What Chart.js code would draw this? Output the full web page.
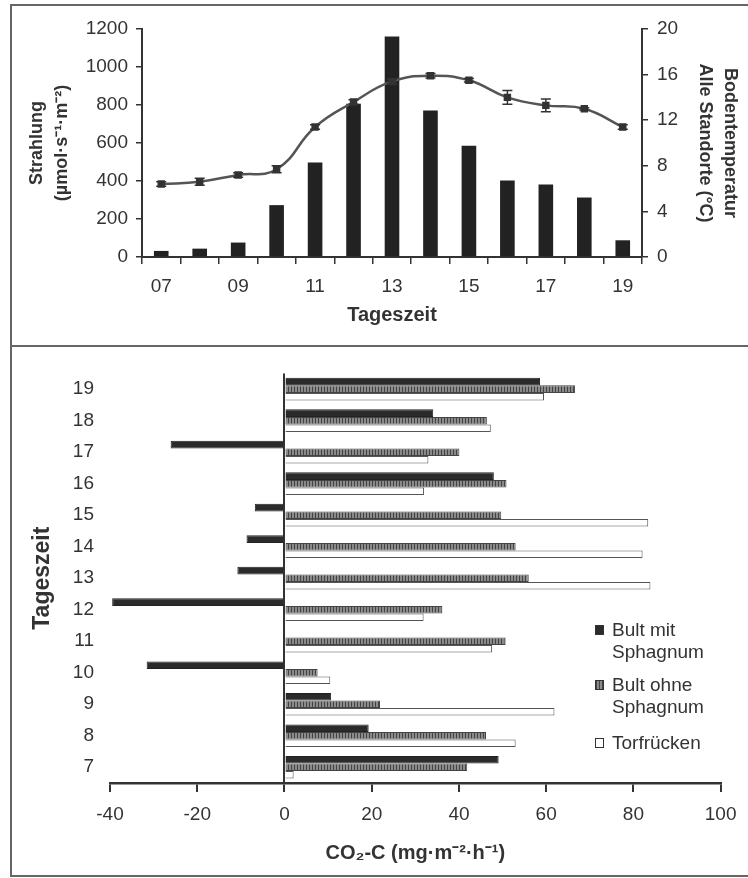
<!DOCTYPE html>
<html>
<head>
<meta charset="utf-8">
<script src="https://cdn.jsdelivr.net/npm/chart.js@4.4.0/dist/chart.umd.min.js"></script>
<style>
  html, body { margin: 0; padding: 0; background: #fff; }
  #fig { position: relative; width: 748px; height: 878px; overflow: hidden; font-family: "Liberation Sans", Arial, sans-serif; color: #333; }
  .line { position: absolute; background: #666; }
  #top { position: absolute; left: 0; top: 0; }
  #bottom { position: absolute; left: 0; top: 346px; }
  .legend { position: absolute; left: 595px; font-size: 19px; line-height: 22px; }
  .legend .sw { position: absolute; left: 0; top: 6px; width: 9px; height: 10px; box-sizing: border-box; border: 1px solid #333; }
  .legend .tx { position: absolute; left: 17px; top: 0; white-space: nowrap; }
</style>
</head>
<body>
<div id="fig">
  <canvas id="top" width="748" height="346"></canvas>
  <canvas id="bottom" width="748" height="532"></canvas>

  <!-- frame of the figure -->
  <div class="line" style="left:10px; top:4px; width:738px; height:2px"></div>
  <div class="line" style="left:10px; top:345px; width:738px; height:2px"></div>
  <div class="line" style="left:10px; top:875px; width:738px; height:2px"></div>
  <div class="line" style="left:10px; top:4px; width:2px; height:873px"></div>

  <!-- legend of the lower chart -->
  <div class="legend" style="top:619px">
    <span class="sw" style="background:#2b2b2b"></span>
    <span class="tx">Bult mit<br>Sphagnum</span>
  </div>
  <div class="legend" style="top:674px">
    <span class="sw" style="background:repeating-linear-gradient(90deg,#444 0 1px,#8a8a8a 1px 3px)"></span>
    <span class="tx">Bult ohne<br>Sphagnum</span>
  </div>
  <div class="legend" style="top:732px">
    <span class="sw" style="background:#fff"></span>
    <span class="tx">Torfrücken</span>
  </div>
</div>
<script>
// ── upper chart: radiation (bars) and soil temperature (line) ──
const hours = ['07', '08', '09', '10', '11', '12', '13', '14', '15', '16', '17', '18', '19'];
const radiation = [32, 44, 76, 273, 498, 806, 1161, 771, 586, 403, 382, 313, 88];
const soilTemp = [6.4, 6.6, 7.2, 7.7, 11.4, 13.6, 15.4, 15.9, 15.5, 14.0, 13.3, 13.0, 11.4];
const soilTempErr = [0.2, 0.3, 0.2, 0.3, 0.2, 0.2, 0.2, 0.2, 0.15, 0.6, 0.55, 0.1, 0.2];

// ── lower chart: CO2 flux per hour, top row first ──
const fluxHours = ['19', '18', '17', '16', '15', '14', '13', '12', '11', '10', '9', '8', '7'];
const bultMit = [58.6, 34.1, -26.1, 48.0, -6.8, -8.7, -10.8, -39.5, null, -31.6, 10.7, 19.3, 49.1];
const bultOhne = [66.6, 46.4, 40.1, 50.9, 49.7, 53.0, 56.0, 36.2, 50.7, 7.6, 21.9, 46.2, 41.9];
const torf = [59.5, 47.3, 33.0, 32.0, 83.4, 82.1, 83.9, 31.9, 47.6, 10.5, 61.9, 53.0, 2.1];

const INK = '#333';
Chart.defaults.font.family = 'Liberation Sans, Arial, sans-serif';
Chart.defaults.color = INK;

function hatch() {
  const c = document.createElement('canvas');
  c.width = 3; c.height = 4;
  const g = c.getContext('2d');
  g.fillStyle = '#8a8a8a';
  g.fillRect(0, 0, 3, 4);
  g.fillStyle = '#444';
  g.fillRect(0, 0, 1, 4);
  return g.createPattern(c, 'repeat');
}

// error bars for the temperature line, drawn through the y1 scale
const errorBars = {
  id: 'errorBars',
  afterDatasetsDraw(chart) {
    const meta = chart.getDatasetMeta(0);
    const y1 = chart.scales.y1;
    const ctx = chart.ctx;
    ctx.save();
    ctx.strokeStyle = INK;
    ctx.lineWidth = 1.5;
    meta.data.forEach((pt, i) => {
      const e = soilTempErr[i];
      const yt = y1.getPixelForValue(soilTemp[i] + e);
      const yb = y1.getPixelForValue(soilTemp[i] - e);
      ctx.beginPath();
      ctx.moveTo(pt.x, yt); ctx.lineTo(pt.x, yb);
      ctx.moveTo(pt.x - 5, yt); ctx.lineTo(pt.x + 5, yt);
      ctx.moveTo(pt.x - 5, yb); ctx.lineTo(pt.x + 5, yb);
      ctx.stroke();
    });
    ctx.restore();
  },
};

new Chart(document.getElementById('top'), {
  data: {
    labels: hours,
    datasets: [
      {
        type: 'line', data: soilTemp, yAxisID: 'y1',
        borderColor: '#555', borderWidth: 2.5, tension: 0.45,
        pointStyle: 'rect', pointRadius: 3.5, pointBackgroundColor: INK, pointBorderColor: INK,
      },
      {
        type: 'bar', data: radiation, yAxisID: 'y',
        backgroundColor: '#222', barPercentage: 0.38, categoryPercentage: 1,
      },
    ],
  },
  plugins: [errorBars],
  options: {
    responsive: false, animation: false,
    layout: { padding: { top: 29, right: 0, bottom: 0, left: 0 } },
    plugins: { legend: { display: false }, tooltip: { enabled: false } },
    scales: {
      x: {
        offset: true,
        grid: { drawOnChartArea: false, offset: true, tickLength: 7, color: INK, lineWidth: 1.5 },
        border: { color: INK, width: 2 },
        ticks: { font: { size: 19 }, padding: 11, maxRotation: 0, autoSkip: false, callback: (v, i) => (i % 2 === 0 ? hours[i] : '') },
        title: { display: true, text: 'Tageszeit', font: { size: 20, weight: 'bold' }, padding: { top: 0, bottom: 19 } },
        afterFit: s => { s.height = 89; },
      },
      y: {
        position: 'left', min: 0, max: 1200,
        ticks: { stepSize: 200, font: { size: 19 }, padding: 8, callback: v => String(v) },
        grid: { drawOnChartArea: false, tickLength: 6, color: INK, lineWidth: 1.5 },
        border: { color: INK, width: 2 },
        title: { display: true, text: ['Strahlung', '(µmol·s⁻¹·m⁻²)'], font: { size: 18, weight: 'bold', lineHeight: 1.4 }, padding: { top: 24.5, bottom: 0 } },
        afterFit: s => { s.width = 142; },
      },
      y1: {
        position: 'right', min: 0, max: 20,
        ticks: { stepSize: 4, font: { size: 19 }, padding: 9 },
        grid: { drawOnChartArea: false, tickLength: 6, color: INK, lineWidth: 1.5 },
        border: { color: INK, width: 2 },
        title: { display: true, text: ['Bodentemperatur', 'Alle Standorte (°C)'], font: { size: 18, weight: 'bold', lineHeight: 1.4 }, padding: { top: 5.5, bottom: 0 } },
        afterFit: s => { s.width = 106; },
      },
    },
  },
});

new Chart(document.getElementById('bottom'), {
  type: 'bar',
  data: {
    labels: fluxHours,
    datasets: [
      { label: 'Bult mit Sphagnum', data: bultMit, backgroundColor: '#2b2b2b', borderColor: '#222', borderWidth: 1 },
      { label: 'Bult ohne Sphagnum', data: bultOhne, backgroundColor: hatch(), borderColor: '#444', borderWidth: 1 },
      { label: 'Torfrücken', data: torf, backgroundColor: '#fff', borderColor: '#555', borderWidth: 1 },
    ],
  },
  options: {
    indexAxis: 'y',
    responsive: false, animation: false,
    layout: { padding: { top: 11, right: 21, bottom: 0, left: 0 } },
    datasets: { bar: { categoryPercentage: 0.72, barPercentage: 1 } },
    plugins: { legend: { display: false }, tooltip: { enabled: false } },
    scales: {
      x: {
        min: -40, max: 100,
        ticks: { stepSize: 20, font: { size: 19 }, padding: 11.5 },
        grid: {
          color: c => (c.tick && c.tick.value === 0 ? INK : 'rgba(0,0,0,0)'),
          lineWidth: 2, tickColor: INK, tickWidth: 2, tickLength: 9,
        },
        border: { color: INK, width: 2.5 },
        title: { display: true, text: 'CO₂-C (mg·m⁻²·h⁻¹)', font: { size: 20, weight: 'bold' }, padding: { top: 0, bottom: 13 } },
        afterFit: s => { s.height = 95; },
      },
      y: {
        grid: { display: false, drawTicks: false },
        border: { display: false },
        ticks: { font: { size: 19 }, padding: 16 },
        title: { display: true, text: 'Tageszeit', font: { size: 23, weight: 'bold' }, padding: { top: 29, bottom: 0 } },
        afterFit: s => { s.width = 110; },
      },
    },
  },
});
</script>
</body>
</html>
